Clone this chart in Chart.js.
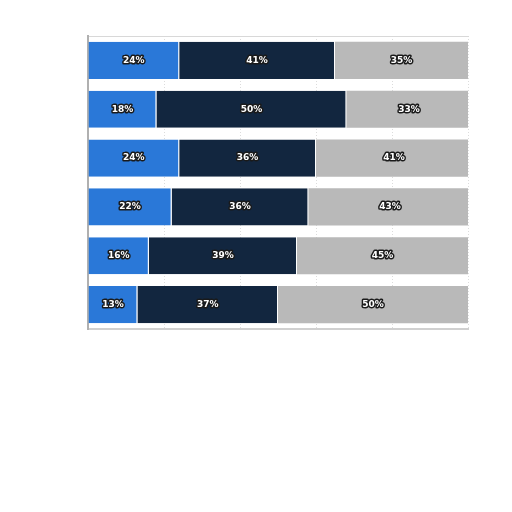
<!DOCTYPE html>
<html>
<head>
<meta charset="utf-8">
<script src="https://cdn.jsdelivr.net/npm/chart.js@4/dist/chart.umd.min.js"></script>
<style>
html,body{margin:0;padding:0;background:#fff}
#wrap{width:512px;height:512px}
</style>
</head>
<body>
<div id="wrap"><canvas id="chart" width="512" height="512"></canvas></div>
<script>
// DATA
const categories = ['1','2','3','4','5','6']
const blueShare = [24,18,24,22,16,13]
const navyShare = [41,50,36,36,39,37]
const greyShare = [35,33,41,43,45,50]
const xTicks = [0,20,40,60,80,100]

// outlined labels drawn in the middle of each segment
const segmentLabels = {
  id:'segmentLabels',
  afterDatasetsDraw(chart){
    const c = chart.ctx
    c.save()
    c.font = 'bold 9px "DejaVu Sans", Verdana, sans-serif'
    c.textAlign = 'center'
    c.textBaseline = 'middle'
    c.lineJoin = 'round'
    chart.data.datasets.forEach((ds,i)=>{
      chart.getDatasetMeta(i).data.forEach((bar,j)=>{
        const txt = ds.data[j] + '%'
        const x = (bar.x + bar.base)/2
        const y = bar.y
        c.lineWidth = 3
        c.strokeStyle = '#1a1a1a'
        c.strokeText(txt,x,y)
        c.fillStyle = '#ffffff'
        c.fillText(txt,x,y)
      })
    })
    c.restore()
  }
}

new Chart(document.getElementById('chart'),{
  type:'bar',
  data:{
    labels:categories,
    datasets:[
      {label:'A',data:blueShare,backgroundColor:'#2a78d8',borderColor:'#ffffff',borderWidth:{right:1},borderSkipped:false},
      {label:'B',data:navyShare,backgroundColor:'#12263f',borderColor:'#ffffff',borderWidth:{right:1},borderSkipped:false},
      {label:'C',data:greyShare,backgroundColor:'#b9b9b9',borderWidth:0}
    ]
  },
  options:{
    indexAxis:'y',
    responsive:false,
    animation:false,
    layout:{padding:{left:88,right:44,top:36,bottom:183}},
    plugins:{legend:{display:false},tooltip:{enabled:false}},
    datasets:{bar:{categoryPercentage:1,barPercentage:0.76}},
    scales:{
      x:{
        stacked:true,min:0,max:100,
        afterBuildTicks:(axis)=>{axis.ticks = xTicks.map(v=>({value:v}))},
        ticks:{display:false},
        grid:{color:'#dcdcdc',drawTicks:false,tickLength:0},
        border:{display:true,color:'#d0d0d0',width:2,dash:[1,2]}
      },
      xTop:{
        axis:'x',position:'top',min:0,max:100,
        ticks:{display:false},
        grid:{display:false,drawTicks:false},
        border:{display:true,color:'#d8d8d8',width:1}
      },
      y:{
        stacked:true,
        ticks:{display:false},
        grid:{display:false,drawTicks:false},
        border:{display:true,color:'#b0b0b0',width:2}
      }
    }
  },
  plugins:[segmentLabels]
})
</script>
</body>
</html>
